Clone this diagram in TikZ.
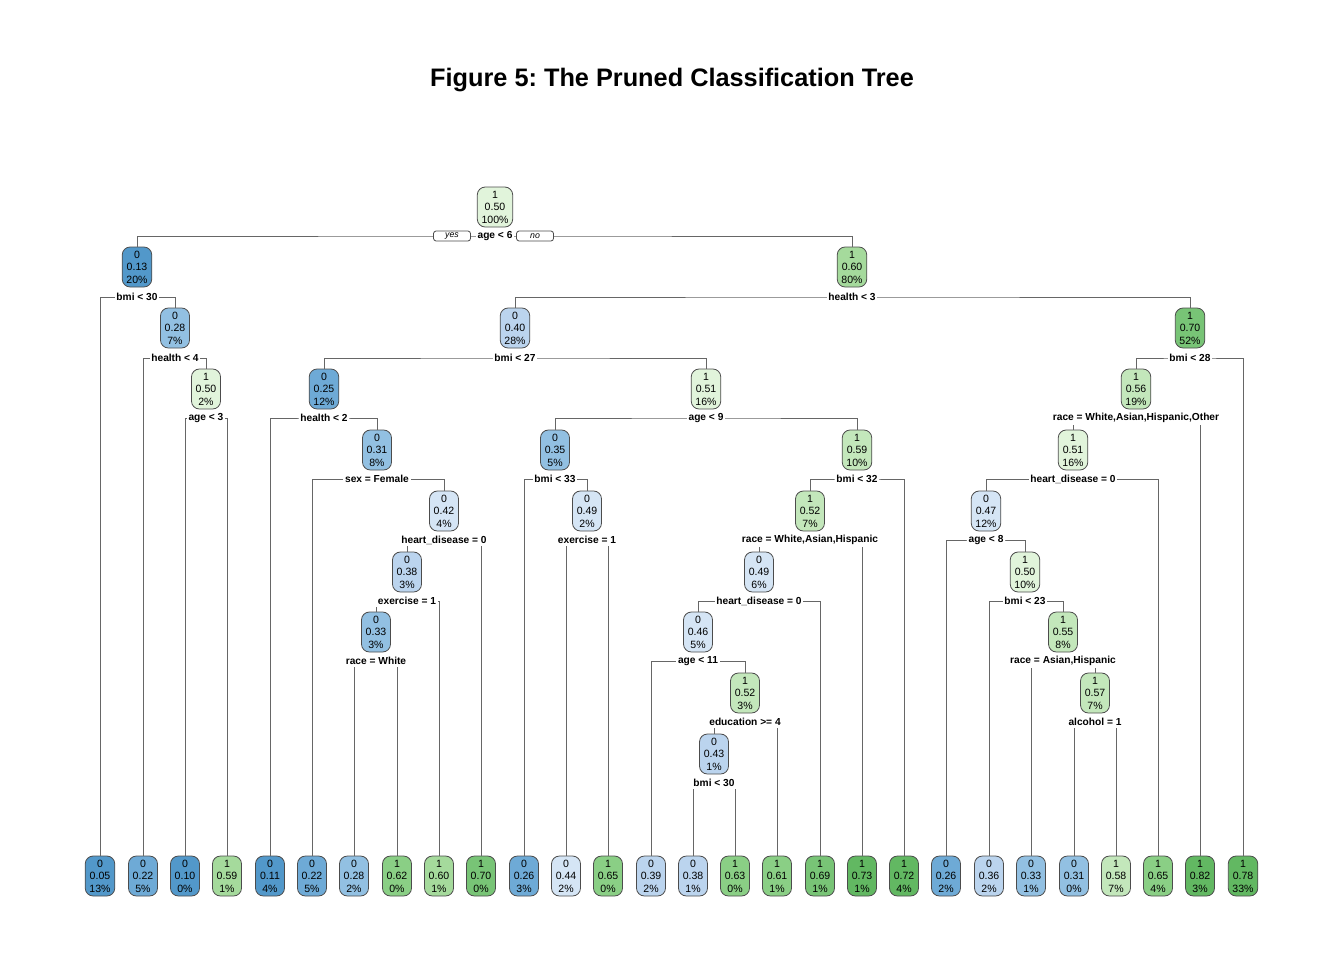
\documentclass[tikz,border=0pt]{standalone}
\usepackage{fontspec}
\setmainfont{Liberation Sans}
\usepackage{tikz}
\usetikzlibrary{positioning}
\frenchspacing

\definecolor{bu1}{HTML}{5298CA}
\definecolor{bu2}{HTML}{6EAAD6}
\definecolor{bu3}{HTML}{92C0E2}
\definecolor{bu4}{HTML}{BBD4EE}
\definecolor{bu5}{HTML}{D5E5F5}
\definecolor{gn1}{HTML}{E1F4DB}
\definecolor{gn2}{HTML}{C3E7BB}
\definecolor{gn3}{HTML}{A5DA9C}
\definecolor{gn4}{HTML}{8ACF85}
\definecolor{gn5}{HTML}{78C476}
\definecolor{gn6}{HTML}{62B862}

\begin{document}
\begin{tikzpicture}[x=0.02cm,y=-0.02cm,
  box/.style={draw=black!70,line width=0.45pt,rounded corners=4.5pt,align=center,font=\fontsize{6}{7.1}\selectfont,inner xsep=2.4pt,inner ysep=1pt,minimum width=0.58cm,minimum height=0.8cm},
  b1/.style={box,fill=bu1},b2/.style={box,fill=bu2},b3/.style={box,fill=bu3},b4/.style={box,fill=bu4},b5/.style={box,fill=bu5},
  g1/.style={box,fill=gn1},g2/.style={box,fill=gn2},g3/.style={box,fill=gn3},g4/.style={box,fill=gn4},g5/.style={box,fill=gn5},g6/.style={box,fill=gn6},
  edge/.style={draw=black!60,line width=0.45pt},
  rule/.style={fill=white,inner sep=1pt,font=\fontsize{5.8}{7}\selectfont\bfseries},
  yn/.style={draw=black!70,fill=white,line width=0.45pt,rounded corners=1.5pt,minimum width=0.74cm,minimum height=0.2cm,inner sep=0pt,font=\fontsize{5}{5}\selectfont\itshape}]
\useasboundingbox (0,0) rectangle (1344,960);
\node[font=\bfseries\fontsize{14.4}{17}\selectfont] (title) at (672,80) {Figure 5: The Pruned Classification Tree};

% split nodes
\node[g1] (n1) at (495,207) {1\\0.50\\100\%};
\node[b1] (n2) at (137,267) {0\\0.13\\20\%};
\node[g3] (n3) at (852,267) {1\\0.60\\80\%};
\node[b3] (n5) at (175,328) {0\\0.28\\7\%};
\node[b4] (n6) at (515,328) {0\\0.40\\28\%};
\node[g5] (n7) at (1190,328) {1\\0.70\\52\%};
\node[g1] (n11) at (206,389) {1\\0.50\\2\%};
\node[b2] (n12) at (324,389) {0\\0.25\\12\%};
\node[g1] (n13) at (706,389) {1\\0.51\\16\%};
\node[g2] (n14) at (1136,389) {1\\0.56\\19\%};
\node[b3] (n25) at (377,450) {0\\0.31\\8\%};
\node[b3] (n26) at (555,450) {0\\0.35\\5\%};
\node[g2] (n27) at (857,450) {1\\0.59\\10\%};
\node[g1] (n28) at (1073,450) {1\\0.51\\16\%};
\node[b5] (n51) at (444,511) {0\\0.42\\4\%};
\node[b5] (n53) at (587,511) {0\\0.49\\2\%};
\node[g2] (n54) at (810,511) {1\\0.52\\7\%};
\node[b5] (n56) at (986,511) {0\\0.47\\12\%};
\node[b4] (n102) at (407,572) {0\\0.38\\3\%};
\node[b5] (n108) at (759,572) {0\\0.49\\6\%};
\node[g1] (n113) at (1025,572) {1\\0.50\\10\%};
\node[b3] (n204) at (376,632) {0\\0.33\\3\%};
\node[b5] (n216) at (698,632) {0\\0.46\\5\%};
\node[g2] (n227) at (1063,632) {1\\0.55\\8\%};
\node[g2] (n433) at (745,693) {1\\0.52\\3\%};
\node[g2] (n455) at (1095,693) {1\\0.57\\7\%};
\node[b4] (n866) at (714,754) {0\\0.43\\1\%};

% leaves
\node[b1] (n4) at (100,876) {0\\0.05\\13\%};
\node[b2] (n10) at (143,876) {0\\0.22\\5\%};
\node[b1] (n22) at (185,876) {0\\0.10\\0\%};
\node[g3] (n23) at (227,876) {1\\0.59\\1\%};
\node[b1] (n24) at (270,876) {0\\0.11\\4\%};
\node[b2] (n50) at (312,876) {0\\0.22\\5\%};
\node[b3] (n408) at (354,876) {0\\0.28\\2\%};
\node[g4] (n409) at (397,876) {1\\0.62\\0\%};
\node[g3] (n205) at (439,876) {1\\0.60\\1\%};
\node[g5] (n103) at (481,876) {1\\0.70\\0\%};
\node[b2] (n52) at (524,876) {0\\0.26\\3\%};
\node[b5] (n106) at (566,876) {0\\0.44\\2\%};
\node[g4] (n107) at (608,876) {1\\0.65\\0\%};
\node[b4] (n432) at (651,876) {0\\0.39\\2\%};
\node[b4] (n1732) at (693,876) {0\\0.38\\1\%};
\node[g4] (n1733) at (735,876) {1\\0.63\\0\%};
\node[g4] (n867) at (777,876) {1\\0.61\\1\%};
\node[g5] (n217) at (820,876) {1\\0.69\\1\%};
\node[g6] (n109) at (862,876) {1\\0.73\\1\%};
\node[g6] (n55) at (904,876) {1\\0.72\\4\%};
\node[b2] (n112) at (946,876) {0\\0.26\\2\%};
\node[b4] (n226) at (989,876) {0\\0.36\\2\%};
\node[b3] (n454) at (1031,876) {0\\0.33\\1\%};
\node[b3] (n910) at (1074,876) {0\\0.31\\0\%};
\node[g2] (n911) at (1116,876) {1\\0.58\\7\%};
\node[g4] (n57) at (1158,876) {1\\0.65\\4\%};
\node[g6] (n29) at (1200,876) {1\\0.82\\3\%};
\node[g6] (n15) at (1243,876) {1\\0.78\\33\%};

% split points
\coordinate (s1) at (495,236);
\coordinate (s2) at (137,297);
\coordinate (s3) at (852,297);
\coordinate (s5) at (175,358);
\coordinate (s6) at (515,358);
\coordinate (s7) at (1190,358);
\coordinate (s11) at (206,418);
\coordinate (s12) at (324,418);
\coordinate (s13) at (706,418);
\coordinate (s14) at (1136,418);
\coordinate (s25) at (377,479);
\coordinate (s26) at (555,479);
\coordinate (s27) at (857,479);
\coordinate (s28) at (1073,479);
\coordinate (s51) at (444,540);
\coordinate (s53) at (587,540);
\coordinate (s54) at (810,540);
\coordinate (s56) at (986,540);
\coordinate (s102) at (407,601);
\coordinate (s108) at (759,601);
\coordinate (s113) at (1025,601);
\coordinate (s204) at (376,661);
\coordinate (s216) at (698,661);
\coordinate (s227) at (1063,661);
\coordinate (s433) at (745,722);
\coordinate (s455) at (1095,722);
\coordinate (s866) at (714,783);

\foreach \p/\l/\r in {1/2/3,2/4/5,3/6/7,5/10/11,6/12/13,7/14/15,11/22/23,12/24/25,13/26/27,14/28/29,
  25/50/51,26/52/53,27/54/55,28/56/57,51/102/103,53/106/107,54/108/109,56/112/113,
  102/204/205,108/216/217,113/226/227,204/408/409,216/432/433,227/454/455,
  433/866/867,455/910/911,866/1732/1733}
  \draw[edge] (n\l.north) |- (s\p) -| (n\r.north);

% split labels
\node[yn] (yes) at (452,236) {yes};
\node[yn] (no) at (535,236) {no};
\node[rule] (r1) at (s1) {age < 6};
\node[rule] (r2) at (s2) {bmi < 30};
\node[rule] (r3) at (s3) {health < 3};
\node[rule] (r5) at (s5) {health < 4};
\node[rule] (r6) at (s6) {bmi < 27};
\node[rule] (r7) at (s7) {bmi < 28};
\node[rule] (r11) at (s11) {age < 3};
\node[rule] (r12) at (s12) {health < 2};
\node[rule] (r13) at (s13) {age < 9};
\node[rule] (r14) at (s14) {race = White,Asian,Hispanic,Other};
\node[rule] (r25) at (s25) {sex = Female};
\node[rule] (r26) at (s26) {bmi < 33};
\node[rule] (r27) at (s27) {bmi < 32};
\node[rule] (r28) at (s28) {heart\_disease = 0};
\node[rule] (r51) at (s51) {heart\_disease = 0};
\node[rule] (r53) at (s53) {exercise = 1};
\node[rule] (r54) at (s54) {race = White,Asian,Hispanic};
\node[rule] (r56) at (s56) {age < 8};
\node[rule] (r102) at (s102) {exercise = 1};
\node[rule] (r108) at (s108) {heart\_disease = 0};
\node[rule] (r113) at (s113) {bmi < 23};
\node[rule] (r204) at (s204) {race = White};
\node[rule] (r216) at (s216) {age < 11};
\node[rule] (r227) at (s227) {race = Asian,Hispanic};
\node[rule] (r433) at (s433) {education >= 4};
\node[rule] (r455) at (s455) {alcohol = 1};
\node[rule] (r866) at (s866) {bmi < 30};
\end{tikzpicture}
\end{document}
